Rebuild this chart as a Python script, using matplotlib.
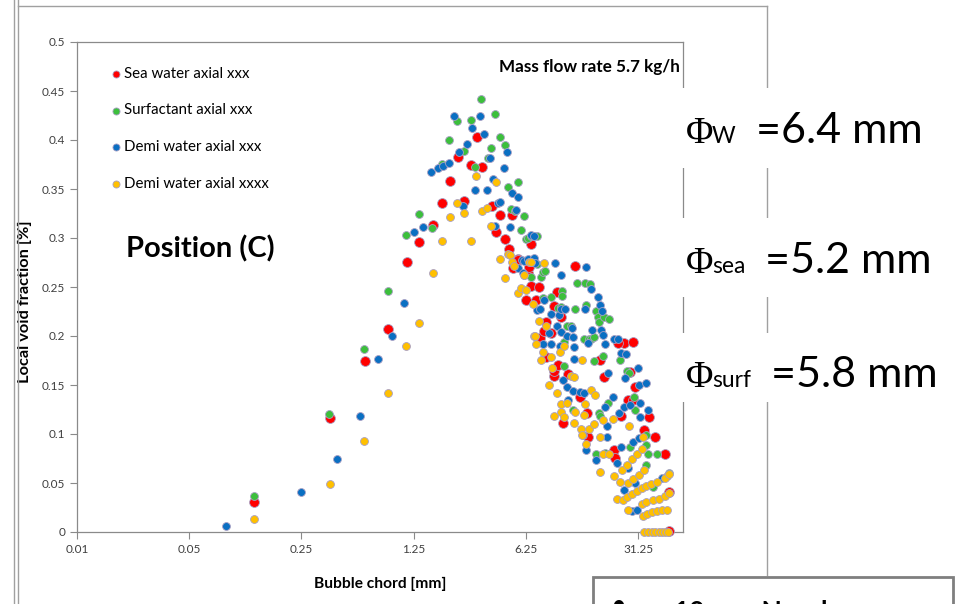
import matplotlib.pyplot as plt
from matplotlib.lines import Line2D
from matplotlib.patches import Rectangle

# Sea water axial xxx (red)
sea_x = [0.127, 0.375, 0.62, 0.87, 1.13, 1.35, 1.65, 1.87, 2.10, 2.37,
         2.57, 2.84, 3.10, 3.34, 3.87, 4.05, 4.30, 4.66, 4.90, 5.12,
         5.20, 5.58, 5.60, 6.30, 6.40, 6.50, 6.70, 6.72, 7.20, 7.50,
         7.60, 8.10, 8.30, 8.40, 8.90, 9.30, 9.40, 9.40, 9.80, 9.90,
         10.4, 10.6, 25.6, 11.4, 12.7, 13.5, 15.0, 15.3, 18.0, 19.3,
         22.0, 22.5, 23.4, 24.5, 27.0, 28.0, 29.0, 29.0, 30.0, 34.0,
         36.6, 40.0, 46.0, 48.5, 49.0]
sea_y = [0.031, 0.116, 0.174, 0.207, 0.276, 0.296, 0.313, 0.336, 0.358, 0.383,
         0.338, 0.374, 0.403, 0.372, 0.333, 0.306, 0.323, 0.299, 0.2885, 0.323,
         0.269, 0.279, 0.278, 0.237, 0.264, 0.270, 0.251, 0.294, 0.237, 0.250,
         0.198, 0.205, 0.214, 0.179, 0.203, 0.231, 0.159, 0.164, 0.245, 0.170,
         0.219, 0.111, 0.1925, 0.161, 0.271, 0.138, 0.121, 0.097, 0.176, 0.158,
         0.084, 0.076, 0.193, 0.118, 0.135, 0.163, 0.194, 0.135, 0.148, 0.104,
         0.117, 0.097, 0.080, 0.041, 0.001]

# Surfactant axial xxx (green)
surf_x = [0.126, 0.373, 0.614, 0.87, 1.12, 1.35, 1.63, 1.87, 2.08, 2.34,
          2.57, 2.84, 3.03, 3.29, 3.62, 3.79, 4.04, 4.29, 4.60, 4.86,
          5.08, 5.35, 5.59, 5.82, 6.10, 6.10, 6.30, 6.40, 6.70, 6.70,
          7.30, 7.35, 7.80, 7.95, 8.00, 8.20, 8.90, 9.90, 10.3, 10.5,
          10.5, 10.8, 10.8, 11.2, 11.9, 12.3, 12.7, 13.0, 14.3, 14.5,
          14.7, 15.5, 15.6, 16.0, 16.7, 16.7, 17.0, 17.0, 17.5, 17.8,
          17.9, 18.0, 18.8, 19.2, 19.5, 20.4, 20.6, 24.0, 26.8, 27.5,
          27.8, 29.5, 30.0, 35.0, 35.0, 35.0, 36.0, 38.7, 41.0, 47.0,
          49.0]
surf_y = [0.037, 0.120, 0.187, 0.246, 0.303, 0.324, 0.310, 0.376, 0.400, 0.419,
          0.389, 0.420, 0.372, 0.442, 0.382, 0.392, 0.427, 0.403, 0.395, 0.352,
          0.330, 0.328, 0.357, 0.308, 0.322, 0.262, 0.299, 0.300, 0.302, 0.260,
          0.302, 0.273, 0.260, 0.265, 0.239, 0.266, 0.240, 0.229, 0.230, 0.246,
          0.241, 0.169, 0.194, 0.210, 0.210, 0.125, 0.228, 0.254, 0.197, 0.254,
          0.232, 0.197, 0.253, 0.197, 0.199, 0.174, 0.226, 0.080, 0.219, 0.121,
          0.214, 0.118, 0.180, 0.219, 0.081, 0.132, 0.217, 0.176, 0.164, 0.162,
          0.087, 0.138, 0.125, 0.089, 0.068, 0.099, 0.080, 0.046, 0.080, 0.057,
          0.060]

# Demi water axial xxx (blue)
demi_x = [0.085, 0.25, 0.417, 0.58, 0.745, 0.92, 1.09, 1.26, 1.43, 1.60,
          1.76, 1.91, 2.07, 2.22, 2.39, 2.54, 2.68, 2.89, 3.03, 3.23,
          3.41, 3.59, 3.74, 3.90, 4.03, 4.20, 4.30, 4.58, 4.77, 4.95,
          5.10, 5.40, 5.60, 5.60, 5.90, 5.96, 6.10, 6.40, 6.77, 6.99,
          7.00, 7.10, 7.30, 7.60, 8.00, 8.10, 8.70, 8.90, 8.90, 9.50,
          9.70, 10.0, 10.2, 10.3, 10.4, 10.4, 10.6, 11.0, 11.2, 11.2,
          11.4, 12.1, 12.2, 12.2, 12.4, 12.4, 13.5, 14.2, 14.3, 14.6,
          14.9, 14.9, 15.3, 15.8, 16.1, 17.0, 17.6, 18.0, 18.3, 18.6,
          18.8, 19.5, 19.5, 20.0, 20.0, 20.4, 21.7, 22.0, 23.0, 23.5,
          23.8, 24.5, 24.5, 25.5, 25.6, 26.0, 26.4, 27.0, 27.7, 28.5,
          29.0, 30.0, 30.7, 31.0, 31.5, 31.5, 32.0, 32.0, 35.0, 36.0,
          44.0]
demi_y = [0.006, 0.041, 0.074, 0.118, 0.177, 0.200, 0.234, 0.306, 0.311, 0.367,
          0.371, 0.373, 0.377, 0.424, 0.388, 0.333, 0.396, 0.412, 0.349, 0.425,
          0.406, 0.349, 0.382, 0.360, 0.312, 0.336, 0.337, 0.371, 0.388, 0.311,
          0.346, 0.329, 0.342, 0.269, 0.278, 0.264, 0.277, 0.279, 0.303, 0.302,
          0.280, 0.274, 0.227, 0.228, 0.192, 0.237, 0.203, 0.222, 0.192, 0.274,
          0.210, 0.221, 0.190, 0.228, 0.204, 0.262, 0.155, 0.228, 0.200, 0.148,
          0.135, 0.208, 0.199, 0.144, 0.177, 0.189, 0.143, 0.099, 0.142, 0.228,
          0.270, 0.084, 0.193, 0.248, 0.206, 0.073, 0.240, 0.232, 0.206, 0.226,
          0.201, 0.192, 0.128, 0.097, 0.108, 0.162, 0.138, 0.197, 0.070, 0.197,
          0.121, 0.183, 0.087, 0.043, 0.128, 0.157, 0.182, 0.065, 0.130, 0.021,
          0.092, 0.050, 0.022, 0.167, 0.150, 0.096, 0.132, 0.117, 0.152, 0.125,
          0.055]

# Demi water axial xxxx (yellow)
demi4_x = [0.126, 0.374, 0.616, 0.87, 1.12, 1.35, 1.65, 1.87, 2.10, 2.33,
           2.57, 2.84, 3.07, 3.34, 3.60, 3.80, 4.07, 4.30, 4.60, 4.86,
           4.95, 5.10, 5.30, 5.58, 5.84, 6.10, 6.25, 6.50, 6.70, 6.90,
           7.00, 7.10, 7.20, 7.50, 7.80, 7.95, 8.10, 8.40, 8.70, 8.90,
           9.10, 9.40, 9.70, 10.2, 10.3, 10.3, 10.8, 10.8, 11.3, 12.0,
           12.5, 12.5, 12.7, 13.8, 14.0, 14.0, 14.3, 14.5, 14.9, 15.5,
           16.0, 16.6, 16.8, 18.0, 18.0, 18.8, 18.9, 20.6, 21.9, 22.0,
           23.0, 24.0, 24.8, 25.0, 26.5, 26.5, 27.0, 27.0, 27.5, 28.5,
           28.5, 29.0, 30.7, 30.7, 31.5, 33.0, 33.0, 33.0, 33.4, 33.5,
           34.0, 34.0, 35.0, 35.0, 35.6, 36.0, 37.5, 38.0, 38.0, 38.5,
           40.0, 41.0, 41.0, 42.0, 42.0, 44.0, 44.0, 46.0, 46.0, 46.0,
           47.5, 48.0, 48.5, 49.0]
demi4_y = [0.013, 0.049, 0.093, 0.142, 0.190, 0.213, 0.264, 0.297, 0.321, 0.336,
           0.326, 0.297, 0.363, 0.328, 0.331, 0.312, 0.357, 0.279, 0.259, 0.284,
           0.283, 0.276, 0.271, 0.244, 0.249, 0.262, 0.247, 0.276, 0.276, 0.233,
           0.200, 0.200, 0.192, 0.215, 0.176, 0.184, 0.274, 0.210, 0.150, 0.179,
           0.167, 0.118, 0.142, 0.184, 0.131, 0.122, 0.190, 0.117, 0.132, 0.159,
           0.158, 0.111, 0.122, 0.105, 0.176, 0.099, 0.119, 0.131, 0.090, 0.105,
           0.145, 0.110, 0.140, 0.097, 0.061, 0.080, 0.114, 0.080, 0.115, 0.057,
           0.034, 0.051, 0.063, 0.033, 0.068, 0.036, 0.050, 0.022, 0.108, 0.075,
           0.039, 0.054, 0.080, 0.042, 0.058, 0.085, 0.045, 0.029, 0.097, 0.016,
           0.063, 0.000, 0.047, 0.031, 0.018, 0.000, 0.049, 0.020, 0.000, 0.033,
           0.000, 0.051, 0.021, 0.034, 0.000, 0.022, 0.000, 0.055, 0.037, 0.000,
           0.022, 0.000, 0.059, 0.040]

labels = ['Sea water axial xxx', 'Surfactant axial xxx',
          'Demi water axial xxx', 'Demi water axial xxxx']
colors = ['#FF0000', '#3CBF3C', '#0A6FC2', '#FFC000']
x_ticks = [0.01, 0.05, 0.25, 1.25, 6.25, 31.25]
x_ticklabels = ['0.01', '0.05', '0.25', '1.25', '6.25', '31.25']
y_ticks = [0, 0.05, 0.1, 0.15, 0.2, 0.25, 0.3, 0.35, 0.4, 0.45, 0.5]
y_ticklabels = ['0', '0.05', '0.1', '0.15', '0.2', '0.25', '0.3', '0.35', '0.4', '0.45', '0.5']
phi_subs = ['W', 'sea', 'surf']
phi_vals = ['=6.4 mm', '=5.2 mm', '=5.8 mm']

plt.rcParams['font.family'] = ['Lato', 'DejaVu Sans']

W, H = 955, 604
fig = plt.figure(figsize=(W / 100, H / 100), dpi=100)


def fx(px):
    return px / W


def fy(py):
    return 1 - py / H


ax = fig.add_axes([fx(77), fy(532), fx(683) - fx(77), fy(42) - fy(532)])

series = [(sea_x, sea_y), (surf_x, surf_y), (demi_x, demi_y), (demi4_x, demi4_y)]
sizes = [50, 32, 32, 32]
for (xs, ys), c, s, lab in zip(series, colors, sizes, labels):
    ax.scatter(xs, ys, s=s, color=c, edgecolors='#A8A0C4', linewidths=0.6,
               label=lab, clip_on=False, zorder=3)

ax.set_xscale('log', base=5)
ax.set_xlim(0.01, 59.5)
ax.set_ylim(0, 0.5)
ax.set_xticks(x_ticks)
ax.set_xticklabels(x_ticklabels)
ax.set_yticks(y_ticks)
ax.set_yticklabels(y_ticklabels)
ax.minorticks_off()
ax.tick_params(axis='both', colors='#8A8A8A', labelcolor='#404040',
               labelsize=8.5, length=5, width=0.8)
for sp in ax.spines.values():
    sp.set_color('#8A8A8A')
    sp.set_linewidth(0.9)

ax.set_xlabel('Bubble chord [mm]', fontsize=11.2, fontweight='bold')
ax.xaxis.set_label_coords((380 - 77) / 606, (532 - 577) / 490)
ax.set_ylabel('Local void fraction [%]', fontsize=11.8, fontweight='bold')
ax.yaxis.set_label_coords((32 - 77) / 606, (532 - 302) / 490)

leg = ax.legend(loc='upper left', bbox_to_anchor=(fx(108), fy(67)),
                bbox_transform=fig.transFigure, frameon=False, fontsize=10.8,
                handletextpad=0.05, handlelength=1.0, labelspacing=1.5,
                borderaxespad=0, borderpad=0)
for h in leg.legend_handles:
    h.set_sizes([26])

ax.text(0.995, (532 - 67) / 490, 'Mass flow rate 5.7 kg/h', transform=ax.transAxes,
        ha='right', va='center', fontsize=12.3, fontweight='bold')
ax.text(fx(126), fy(249), 'Position (C)', transform=fig.transFigure,
        ha='left', va='center', fontsize=21, fontweight='bold')

# frame lines of the surrounding chart area
grey = '#A0A0A0'
fig.add_artist(Line2D([fx(14), fx(14)], [0, 1], color=grey, lw=1))
fig.add_artist(Line2D([fx(18), fx(18)], [0, 1], color=grey, lw=1))
fig.add_artist(Line2D([fx(18), fx(767)], [fy(6), fy(6)], color=grey, lw=1))
fig.add_artist(Line2D([fx(767), fx(767)], [fy(6), fy(575)], color=grey, lw=1))

# white text boxes on the right
for top, bottom in [(88, 168), (218, 297), (333, 402)]:
    fig.add_artist(Rectangle((fx(681), fy(bottom)), fx(955) - fx(681),
                             fy(top) - fy(bottom), transform=fig.transFigure,
                             facecolor='white', edgecolor='none', zorder=5))

baselines = [143, 273, 387]
for base, sub, val in zip(baselines, phi_subs, phi_vals):
    fig.text(fx(686), fy(base), '\u03a6', fontsize=27, family='Liberation Serif',
             va='baseline', ha='left', zorder=6)
    t2 = fig.text(fx(712), fy(base), sub, fontsize=16.5,
                  va='baseline', ha='left', zorder=6)
    fig.canvas.draw()
    bb2 = t2.get_window_extent()
    fig.text(bb2.x1 / W + fx(20), fy(base), val, fontsize=31,
             va='baseline', ha='left', zorder=6)

# partially visible box at the bottom right
fig.add_artist(Rectangle((fx(593), fy(640)), fx(953) - fx(593), fy(577) - fy(640),
                         transform=fig.transFigure, facecolor='white',
                         edgecolor='#7F7F7F', lw=2, zorder=5))
fig.text(fx(618), fy(606), '\u2022', fontsize=20, va='center', ha='center', zorder=6)
fig.text(fx(674), fy(620), '10 mm Nozzle', fontsize=19, fontweight='bold',
         va='baseline', ha='left', zorder=6)

fig.savefig('out.png', dpi=100)
